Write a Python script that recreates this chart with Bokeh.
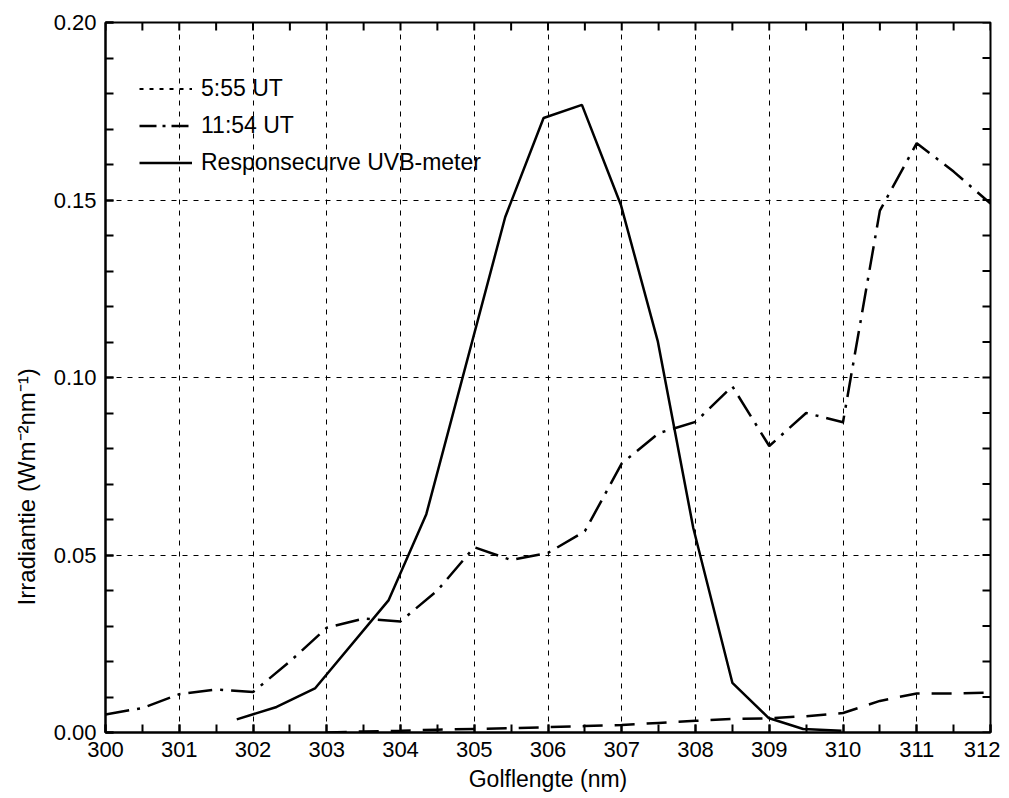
import numpy as np
from bokeh.plotting import figure
from bokeh.models import (Range1d, SingleIntervalTicker, Legend, LegendItem,
                          Title, NumeralTickFormatter)
from bokeh.embed import file_html
from bokeh.resources import INLINE

# ---- data ----
wl_0555 = [303.0, 303.5, 304.0, 304.5, 305.0, 305.5, 306.0, 306.5, 307.0, 307.5,
           308.0, 308.5, 309.0, 309.5, 310.0, 310.5, 311.0, 311.5, 312.0]
irr_0555 = [0.0000, 0.0003, 0.0005, 0.0008, 0.0010, 0.0012, 0.0015, 0.0018, 0.0021, 0.0027,
            0.0033, 0.0038, 0.0040, 0.0046, 0.0055, 0.0089, 0.0110, 0.0110, 0.0112]

wl_1154 = [300.0, 300.5, 301.0, 301.5, 302.0, 302.5, 303.0, 303.5, 304.0, 304.5,
           305.0, 305.5, 306.0, 306.5, 307.0, 307.5, 308.0, 308.5, 309.0, 309.5,
           310.0, 310.5, 311.0, 311.5, 312.0]
irr_1154 = [0.0051, 0.0069, 0.0108, 0.0121, 0.0114, 0.0200, 0.0295, 0.0321, 0.0313, 0.0400,
            0.0522, 0.0486, 0.0506, 0.0567, 0.0758, 0.0843, 0.0875, 0.0975, 0.0807, 0.0900,
            0.0874, 0.1470, 0.1660, 0.1580, 0.1490]

wl_resp = [301.78, 302.32, 302.84, 303.84, 304.35, 305.42, 305.94, 306.46, 306.99,
           307.49, 307.97, 308.50, 308.99, 309.46, 309.98]
resp = [0.0037, 0.0072, 0.0124, 0.0373, 0.0615, 0.1452, 0.1731, 0.1768, 0.1485,
        0.1101, 0.0576, 0.0140, 0.0041, 0.0010, 0.0005]

legend_labels = ["5:55 UT", "11:54 UT", "Responsecurve UVB-meter"]
x_label = "Golflengte (nm)"
y_label = "Irradiantie (Wm\u207b\u00b2nm\u207b\u00b9)"

# tick positions for the top / right frame edges
x_tick_pos = np.arange(300.0, 312.01, 0.5)
y_tick_pos = np.arange(0.0, 0.2001, 0.01)

FONT = "Liberation Sans"
X0, X1, Y0, Y1 = 300, 312, 0.0, 0.2

p = figure(width=1000, height=795, output_backend="svg", toolbar_location=None,
           x_range=Range1d(X0, X1), y_range=Range1d(Y0, Y1),
           min_border_left=105, min_border_right=10, min_border_top=22,
           min_border_bottom=63, background_fill_color="white",
           border_fill_color="white")
p.outline_line_color = "black"
p.outline_line_width = 2

xt = SingleIntervalTicker(interval=1, num_minor_ticks=2)
yt = SingleIntervalTicker(interval=0.05, num_minor_ticks=5)

p.xaxis.ticker = xt
p.yaxis.ticker = yt
p.yaxis.formatter = NumeralTickFormatter(format="0.00")

for ax in [p.xaxis[0], p.yaxis[0]]:
    ax.major_tick_in = 8
    ax.major_tick_out = 0
    ax.minor_tick_in = 8
    ax.minor_tick_out = 0
    ax.axis_line_width = 2
    ax.axis_line_color = "black"
    ax.major_tick_line_width = 2
    ax.minor_tick_line_width = 2
    ax.major_tick_line_color = "black"
    ax.minor_tick_line_color = "black"
    ax.major_label_text_font = FONT
    ax.major_label_text_font_size = "22px"
    ax.major_label_text_color = "black"
    ax.major_label_standoff = 9

p.xaxis.axis_label = x_label
p.xaxis.axis_label_text_font = FONT
p.xaxis.axis_label_text_font_size = "23px"
p.xaxis.axis_label_text_font_style = "normal"
p.xaxis.axis_label_text_color = "black"
p.xaxis.axis_label_standoff = 6

p.xgrid.ticker = xt
p.ygrid.ticker = yt
for g in [p.xgrid[0], p.ygrid[0]]:
    g.grid_line_color = "black"
    g.grid_line_width = 1
    g.grid_line_dash = "5 6"
    g.grid_line_alpha = 1

# inward ticks on the top and right edges of the frame
p.ray(x=x_tick_pos, y=Y1, length=8, length_units="screen", angle=-np.pi / 2,
      line_color="black", line_width=2)
p.ray(x=X1, y=y_tick_pos, length=8, length_units="screen", angle=np.pi,
      line_color="black", line_width=2)

r1 = p.line(wl_0555, irr_0555, line_color="black", line_width=2.5, line_dash="20 12")
r2 = p.line(wl_1154, irr_1154, line_color="black", line_width=2.5, line_dash="24 8 3 8")
r3 = p.line(wl_resp, resp, line_color="black", line_width=2.5)

# legend sample renderers (nothing visible) carrying the legend's own dash styles
nan_0555 = [float("nan")] * len(wl_0555)
nan_1154 = [float("nan")] * len(wl_1154)
l1 = p.line(wl_0555, nan_0555, line_color="black", line_width=2, line_dash="4 6")
l2 = p.line(wl_1154, nan_1154, line_color="black", line_width=2.5, line_dash="17 6 3 6")

legend = Legend(items=[LegendItem(label=legend_labels[0], renderers=[l1]),
                       LegendItem(label=legend_labels[1], renderers=[l2]),
                       LegendItem(label=legend_labels[2], renderers=[r3])],
                location=(34, 551), margin=0, padding=0, spacing=0,
                glyph_width=53, glyph_height=37, label_height=37,
                label_standoff=9, label_text_font=FONT, label_text_font_size="23px",
                label_text_color="black",
                border_line_color=None, background_fill_alpha=0)
p.add_layout(legend)

ytitle = Title(text=y_label, align="left", offset=127, vertical_align="top",
               text_font=FONT, text_font_size="24px", text_font_style="normal",
               text_color="black", standoff=18)
p.add_layout(ytitle, "left")

open("out.html", "w").write(file_html(p, INLINE))
